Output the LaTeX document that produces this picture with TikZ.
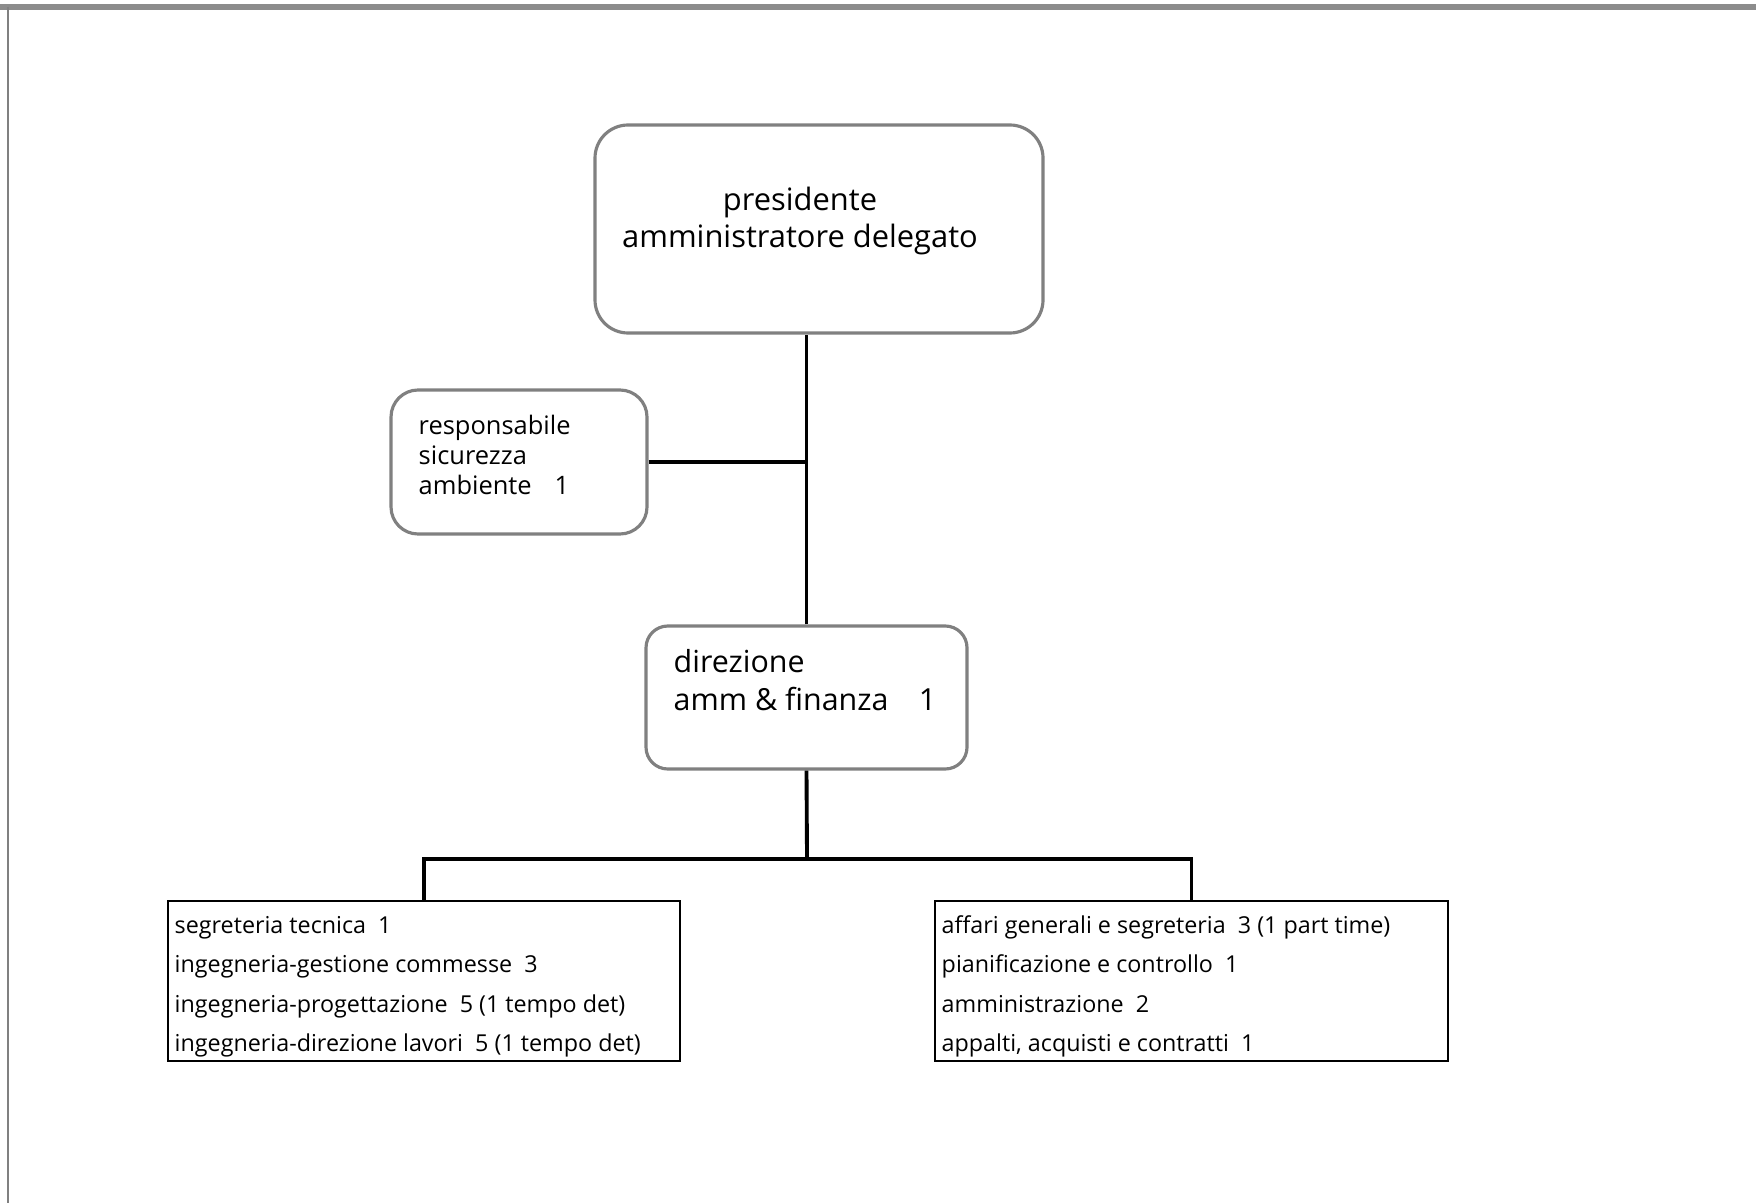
\documentclass[tikz,border=0pt]{standalone}
\usepackage{fontspec}
\setmainfont{Open Sans}
\usetikzlibrary{positioning, calc}

\begin{document}
\begin{tikzpicture}[
    box/.style={rectangle, draw=black!50, line width=0.9pt, inner sep=0pt},
    listbox/.style={rectangle, draw=black, line width=0.8pt, inner sep=0pt, minimum width=5.12cm, minimum height=1.6cm},
    conn/.style={line width=1.1pt},
    bigtext/.style={font=\fontsize{8.78}{10.7}\selectfont, inner sep=0pt},
    midtext/.style={font=\fontsize{8.65}{10.8}\selectfont, inner sep=0pt, align=left},
    smalltext/.style={font=\fontsize{7.24}{8.4}\selectfont, inner sep=0pt, align=left},
    listtext/.style={font=\fontsize{6.63}{11.1}\selectfont, inner sep=0pt, align=left}
]
\useasboundingbox (0,0) rectangle (17.56,12.03);

% page edges
\draw[black!45, line width=1.6pt] (0,11.96) -- (17.56,11.96);
\draw[black!50, line width=0.6pt] (0.08,11.96) -- (0.08,0);

% ============ TOP ============
\node[box, rounded corners=9.4pt, minimum width=4.48cm, minimum height=2.08cm] (pres) at (8.19, 9.74) {};
\node[bigtext, align=center, anchor=base] (prestext) at (8.0, 9.55) {presidente\\amministratore delegato};

% ============ STAFF ============
\node[box, rounded corners=7.7pt, minimum width=2.56cm, minimum height=1.44cm] (resp) at (5.19, 7.41) {};
\node[smalltext, anchor=base west] (resptext) at (4.18, 7.09) {responsabile\\sicurezza\\ambiente\hspace{0.9em}1};

% ============ DIREZIONE ============
\node[box, rounded corners=6.2pt, minimum width=3.21cm, minimum height=1.43cm] (dir) at (8.065, 5.055) {};
\node[midtext, anchor=base west] (dirtext) at (6.73, 4.93) {direzione\\amm \& finanza\hspace{1em}1};

% ============ UFFICI ============
\node[listbox] (left) at (4.24, 2.22) {};
\node[listtext, anchor=base west] (lefttext) at (1.74, 1.52) {segreteria tecnica~ 1\\ingegneria-gestione commesse~ 3\\ingegneria-progettazione~ 5 (1 tempo det)\\ingegneria-direzione lavori~ 5 (1 tempo det)};

\node[listbox, minimum width=5.13cm] (right) at (11.915, 2.22) {};
\node[listtext, anchor=base west] (righttext) at (9.41, 1.52) {affari generali e segreteria~ 3 (1 part time)\\pianificazione e controllo~ 1\\amministrazione~ 2\\appalti, acquisti e contratti~ 1};

% ============ CONNECTORS ============
\coordinate (bar) at (8.07, 3.44);
\draw[conn] (dir.north) -- (dir.north |- pres.south);
\draw[conn] (resp.east) -- (resp.east -| dir.north);
\draw[conn] (dir.south) -- (bar);
\draw[conn] (left.north) |- (bar) -| (right.north);

\end{tikzpicture}
\end{document}
